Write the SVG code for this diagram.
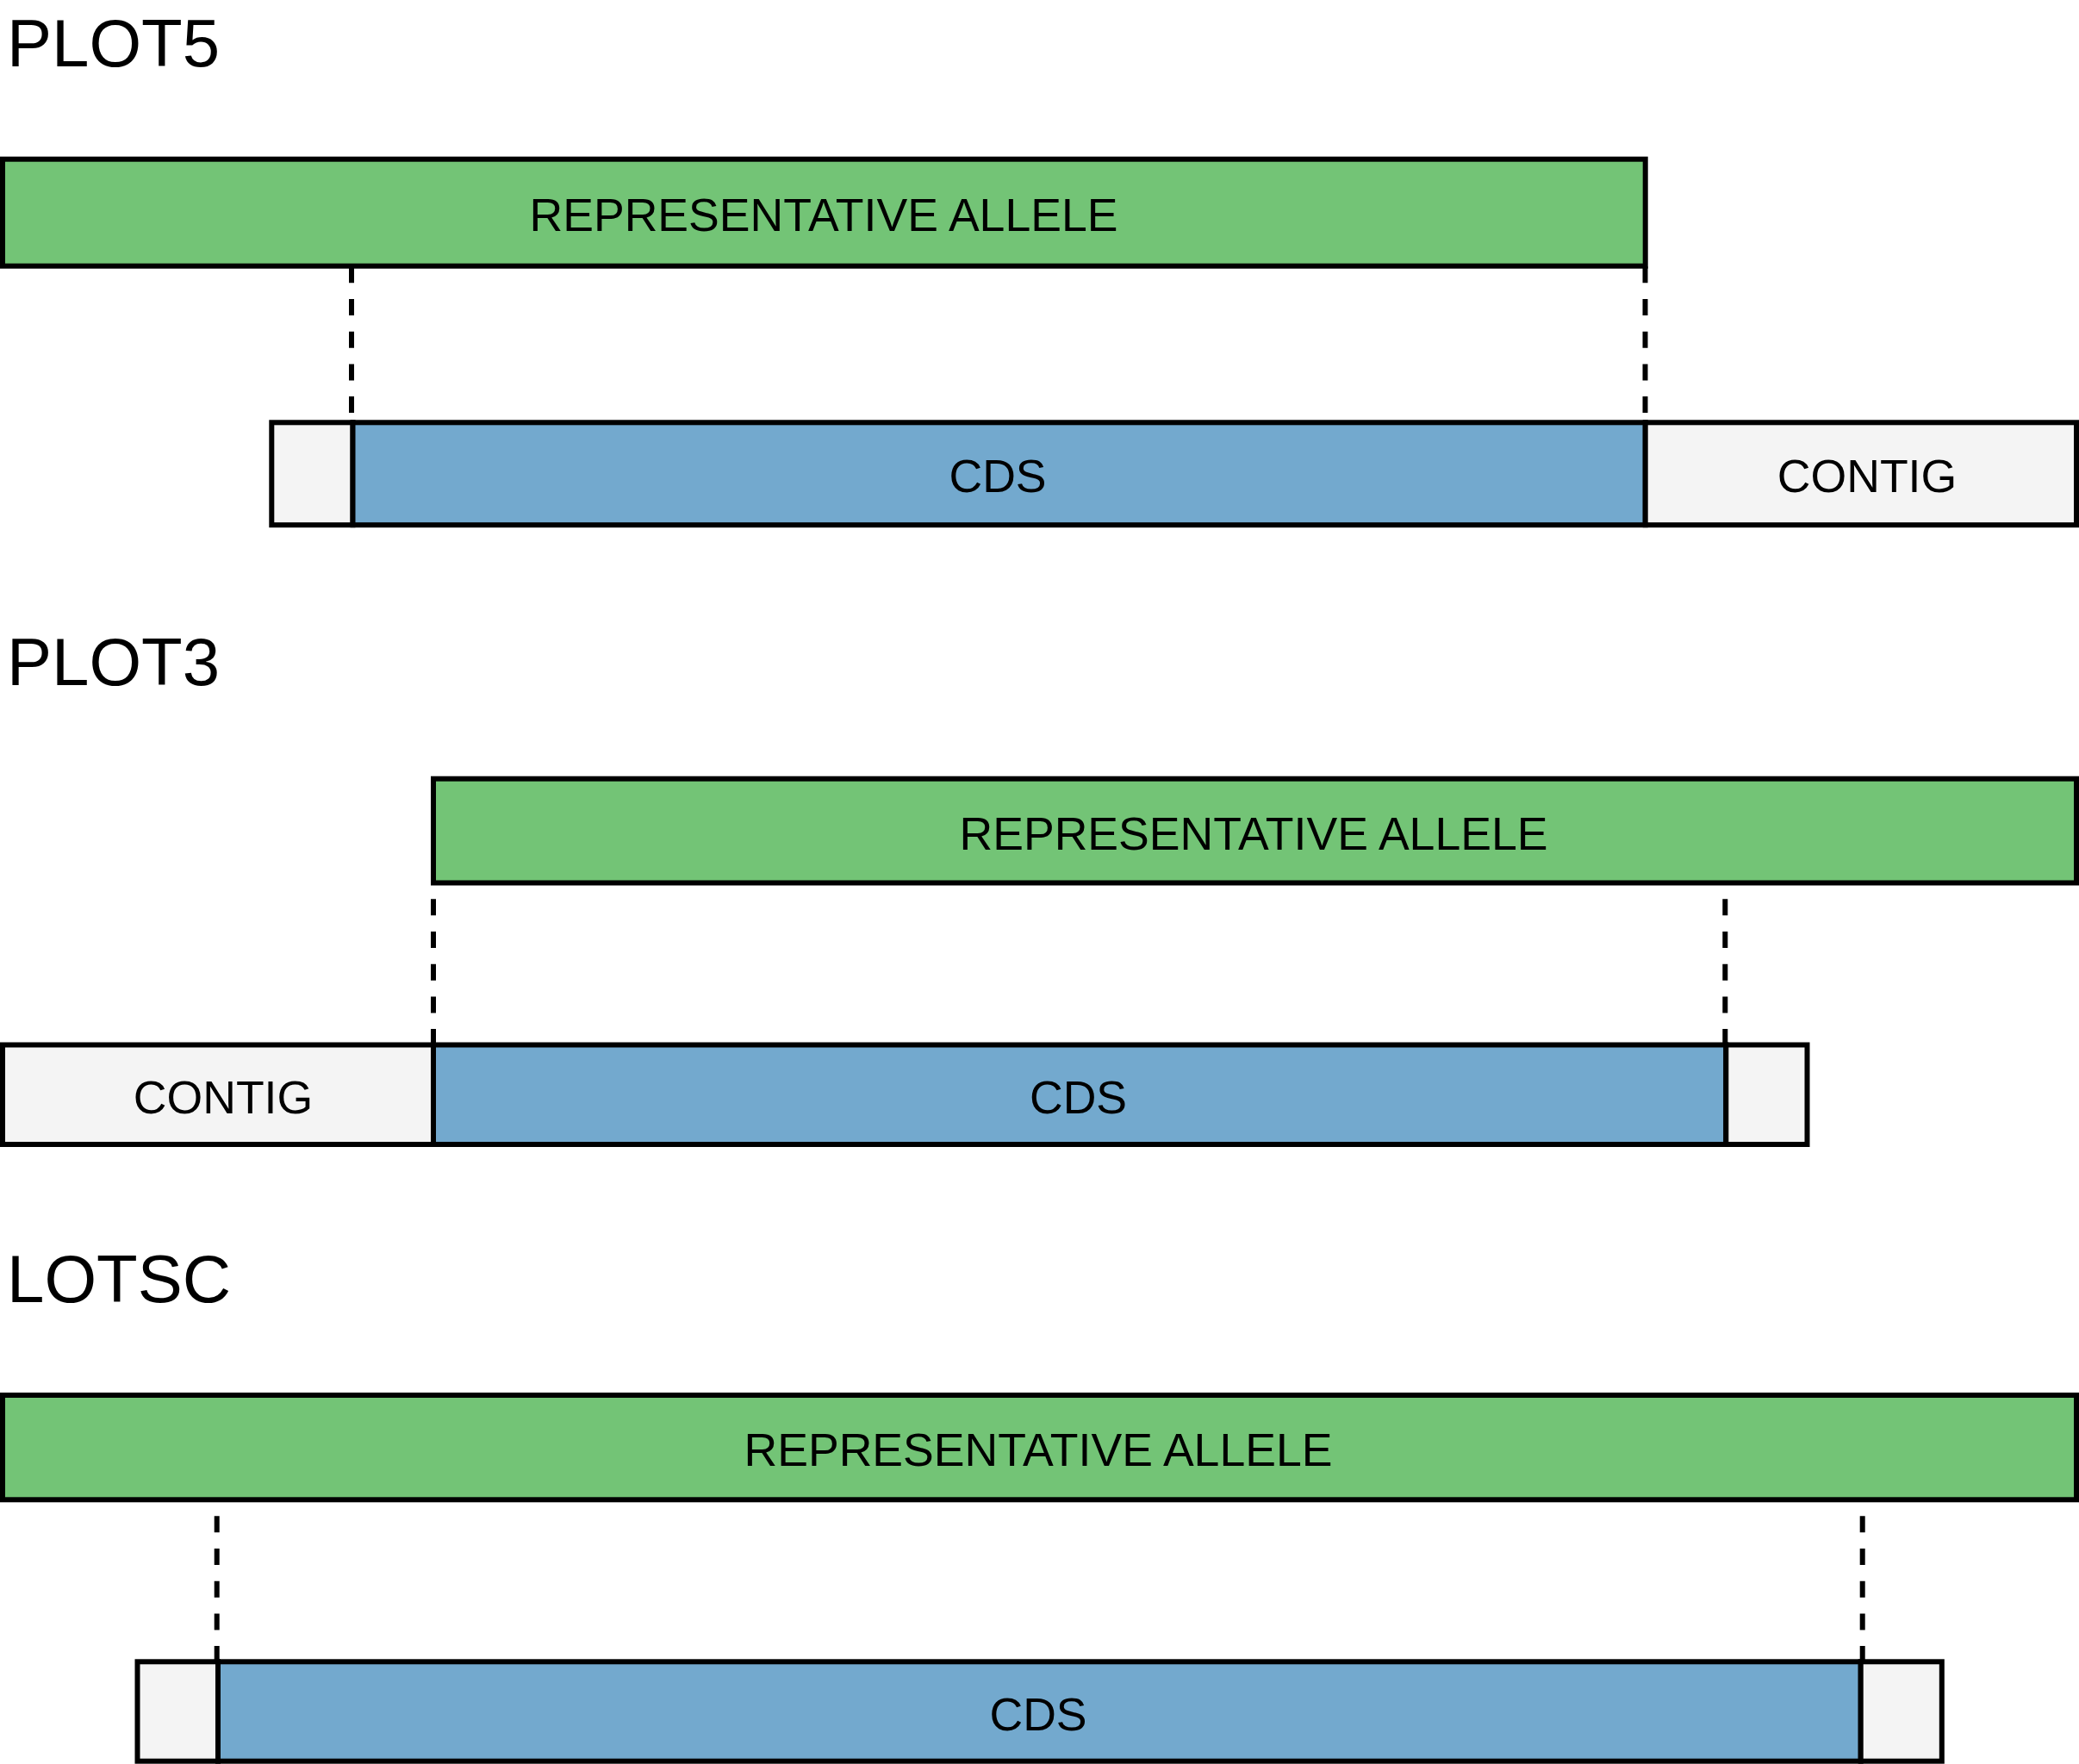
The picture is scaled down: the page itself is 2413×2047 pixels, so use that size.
<svg xmlns="http://www.w3.org/2000/svg" width="2413" height="2047" viewBox="0 0 2413 2047">
<style>
.bx{stroke:#000;stroke-width:6}
.al{fill:#73c476}
.cds{fill:#73a9ce}
.ct{fill:#f4f4f4}
.t{font-family:"Liberation Sans",Arial,sans-serif;font-size:53.6px;fill:#000;text-anchor:middle}
.h{font-family:"Liberation Sans",Arial,sans-serif;font-size:78px;fill:#000}
.d{stroke:#000;stroke-width:6;stroke-dasharray:19 18.7;fill:none}
</style>
<rect width="2413" height="2047" fill="#fff"/>
<g id="plot5">
<text class="h" x="8" y="77">PLOT5</text>
<g id="plot5-allele"><rect class="bx al" x="3" y="184.7" width="1906.7" height="124"/><text class="t" x="956" y="268.3">REPRESENTATIVE ALLELE</text></g>
<g id="plot5-contig-left"><rect class="bx ct" x="315.3" y="490.3" width="94.2" height="118.9"/></g>
<g id="plot5-cds"><rect class="bx cds" x="409.5" y="490.3" width="1500.2" height="118.9"/><text class="t" x="1158" y="571">CDS</text></g>
<g id="plot5-contig"><rect class="bx ct" x="1909.7" y="490.3" width="500.3" height="118.9"/><text class="t" x="2167" y="571">CONTIG</text></g>
</g>
<g id="plot3">
<text class="h" x="8" y="795">PLOT3</text>
<g id="plot3-allele"><rect class="bx al" x="503" y="903.7" width="1907" height="120.8"/><text class="t" x="1455" y="985.6">REPRESENTATIVE ALLELE</text></g>
<g id="plot3-contig"><rect class="bx ct" x="3" y="1212.5" width="500" height="115.5"/><text class="t" x="259" y="1292">CONTIG</text></g>
<g id="plot3-cds"><rect class="bx cds" x="503" y="1212.5" width="1500.3" height="115.5"/><text class="t" x="1251.5" y="1292">CDS</text></g>
<g id="plot3-contig-right"><rect class="bx ct" x="2003.3" y="1212.5" width="94.2" height="115.5"/></g>
</g>
<g id="lotsc">
<text class="h" x="8" y="1511">LOTSC</text>
<g id="lotsc-allele"><rect class="bx al" x="3" y="1619" width="2407" height="121.3"/><text class="t" x="1205" y="1701">REPRESENTATIVE ALLELE</text></g>
<g id="lotsc-contig-left"><rect class="bx ct" x="159.5" y="1928.3" width="93.5" height="115.4"/></g>
<g id="lotsc-cds"><rect class="bx cds" x="253" y="1928.3" width="1906.7" height="115.4"/><text class="t" x="1205" y="2007.5">CDS</text></g>
<g id="lotsc-contig-right"><rect class="bx ct" x="2159.7" y="1928.3" width="94.1" height="115.4"/></g>
</g>
<g id="connectors">
<line class="d" x1="408" y1="309.3" x2="408" y2="491"/>
<line class="d" x1="1909.5" y1="309.3" x2="1909.5" y2="491"/>
<line class="d" x1="503" y1="1043.3" x2="503" y2="1213"/>
<line class="d" x1="2002.3" y1="1043.3" x2="2002.3" y2="1213"/>
<line class="d" x1="251.7" y1="1759.3" x2="251.7" y2="1929"/>
<line class="d" x1="2161.7" y1="1759.3" x2="2161.7" y2="1929"/>
</g>
</svg>
